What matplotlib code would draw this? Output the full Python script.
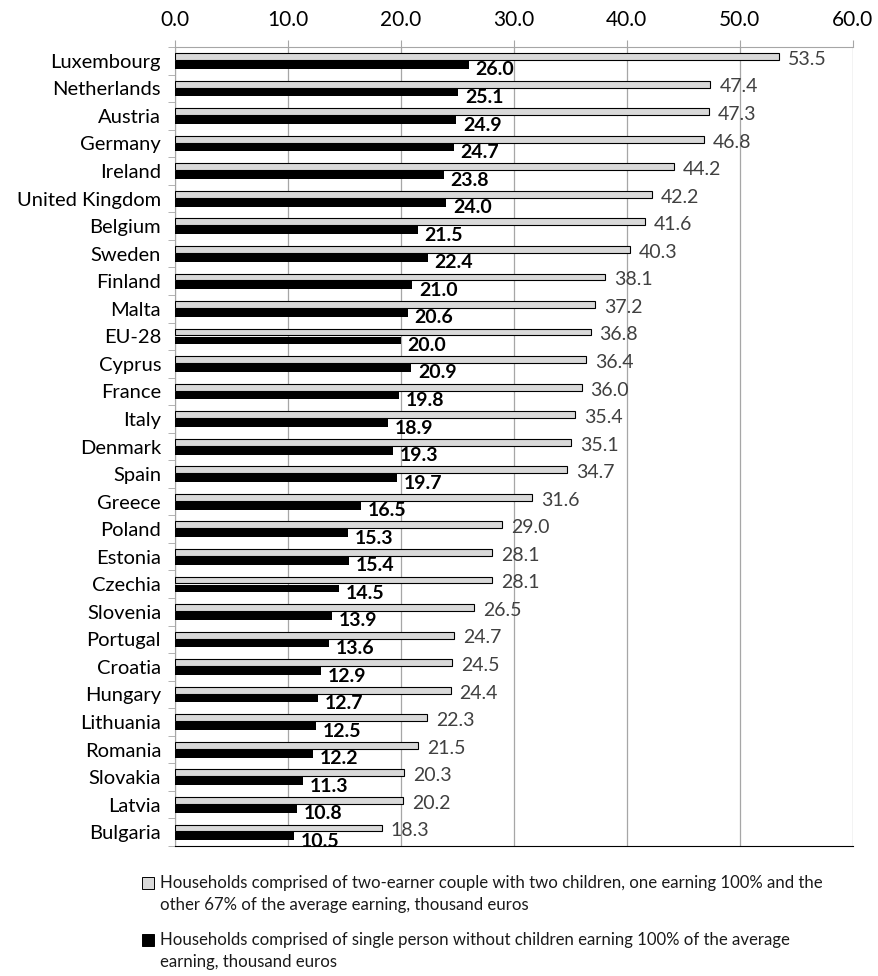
import numpy as np
import matplotlib
matplotlib.use('Agg')
import matplotlib.pyplot as plt
from matplotlib.patches import Rectangle

plt.rcParams['font.family'] = ['Lato', 'DejaVu Sans']

countries = ['Luxembourg', 'Netherlands', 'Austria', 'Germany', 'Ireland',
             'United Kingdom', 'Belgium', 'Sweden', 'Finland', 'Malta', 'EU-28',
             'Cyprus', 'France', 'Italy', 'Denmark', 'Spain', 'Greece', 'Poland',
             'Estonia', 'Czechia', 'Slovenia', 'Portugal', 'Croatia', 'Hungary',
             'Lithuania', 'Romania', 'Slovakia', 'Latvia', 'Bulgaria']
couple = [53.5, 47.4, 47.3, 46.8, 44.2, 42.2, 41.6, 40.3, 38.1, 37.2, 36.8,
          36.4, 36.0, 35.4, 35.1, 34.7, 31.6, 29.0, 28.1, 28.1, 26.5, 24.7,
          24.5, 24.4, 22.3, 21.5, 20.3, 20.2, 18.3]
single = [26.0, 25.1, 24.9, 24.7, 23.8, 24.0, 21.5, 22.4, 21.0, 20.6, 20.0,
          20.9, 19.8, 18.9, 19.3, 19.7, 16.5, 15.3, 15.4, 14.5, 13.9, 13.6,
          12.9, 12.7, 12.5, 12.2, 11.3, 10.8, 10.5]
legend_labels = [
    'Households comprised of two-earner couple with two children, one earning 100% and the\n'
    'other 67% of the average earning, thousand euros',
    'Households comprised of single person without children earning 100% of the average\n'
    'earning, thousand euros',
]

grey = '#d9d9d9'
gridc = '#a6a6a6'

fig = plt.figure(figsize=(8.79, 9.76), dpi=100)
ax = fig.add_axes([0.199, 0.1332, 0.771, 0.8186])

y = np.arange(len(countries))
ax.barh(y - 0.155, couple, height=0.25, color=grey, edgecolor='black', linewidth=0.8, zorder=3)
ax.barh(y + 0.15, single, height=0.28, color='black', zorder=3)

for i in range(len(countries)):
    ax.text(couple[i] + 0.8, i - 0.05, f'{couple[i]:.1f}', ha='left', va='center',
            fontsize=14, color='#404040', zorder=4)
    ax.text(single[i] + 0.6, i + 0.33, f'{single[i]:.1f}', ha='left', va='center',
            fontsize=14, fontweight='bold', color='black', zorder=4)

ax.set_xlim(0, 60)
ax.set_ylim(len(countries) - 0.5, -0.5)
ax.set_xticks(np.arange(0, 61, 10))
ax.set_xticklabels([f'{v:.1f}' for v in np.arange(0, 61, 10)])
ax.xaxis.tick_top()
ax.tick_params(axis='x', labelsize=15, length=5, color=gridc, pad=7)
ax.set_yticks(y)
ax.set_yticklabels(countries)
ax.set_yticks(np.arange(-0.5, len(countries), 1), minor=True)
ax.tick_params(axis='y', which='major', length=0, labelsize=14.5, pad=10)
ax.tick_params(axis='y', which='minor', length=5, color=gridc)
ax.grid(axis='x', color=gridc, linewidth=0.9, zorder=0)
ax.spines['right'].set_visible(False)
ax.spines['top'].set_color(gridc)
ax.spines['left'].set_color(gridc)
ax.spines['bottom'].set_color('black')

colors = [grey, 'black']
for k in range(2):
    top = 1 - (877 + k * 57) / 976
    fig.patches.append(Rectangle((142 / 879, top - 12 / 976), 12 / 879, 12 / 976,
                                 transform=fig.transFigure, facecolor=colors[k],
                                 edgecolor='black', linewidth=0.7))
    fig.text(160 / 879, top + 2 / 976, legend_labels[k], ha='left', va='top',
             fontsize=12.1, color='#1a1a1a', linespacing=1.45)

fig.savefig('out.png', dpi=100)
